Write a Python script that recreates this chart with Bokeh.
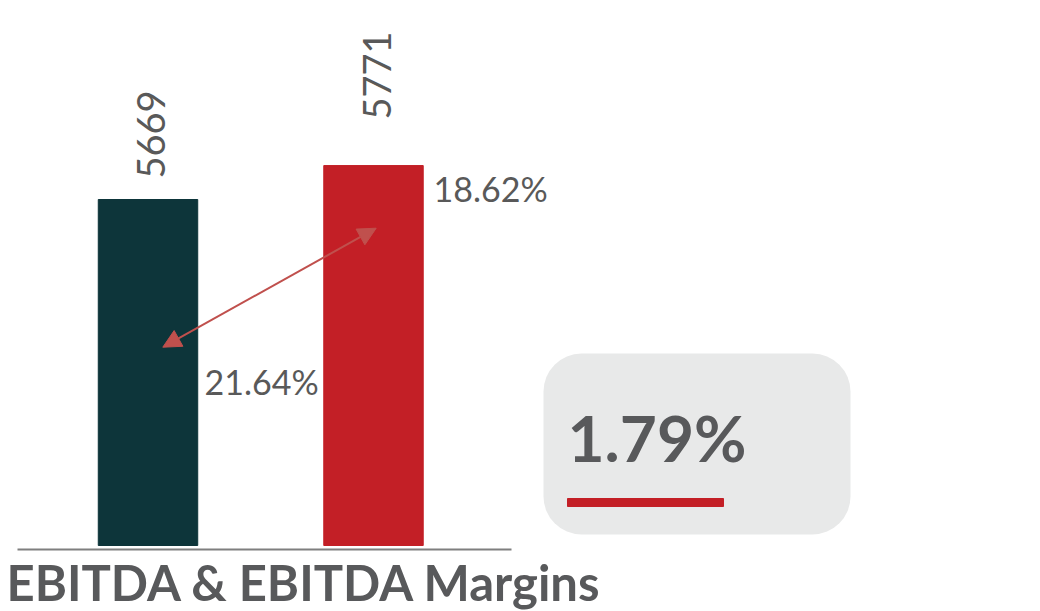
import math
from bokeh.plotting import figure
from bokeh.models import Range1d, BoxAnnotation, Arrow, NormalHead, ColumnDataSource
from bokeh.core.properties import value
from bokeh.embed import file_html
from bokeh.resources import INLINE

# ---- data ----
periods = ["Prev", "Curr"]
ebitda = [5669, 5771]
margins = ["21.64%", "18.62%"]
change_label = "1.79%"
title_text = "EBITDA & EBITDA Margins"

# ---- style ----
bar_colors = ["#0d353a", "#c31f26"]
text_gray = "#595959"
title_gray = "#58595b"
red = "#c31f26"
arrow_red = "#c0504d"
FONT = "Lato"

W, H = 1024, 611
axis_min = 4630          # value axis start (bars grow from here)
px_per_unit = 0.333
base_px = 545            # pixel row of axis_min
y_end = axis_min + base_px / px_per_unit
y_start = axis_min - (H - base_px) / px_per_unit
slot = 225.5
x0_px = 147.5
x_start = -x0_px / slot
x_end = (W - x0_px) / slot
bar_w = 0.441

p = figure(width=W, height=H, output_backend="svg", toolbar_location=None,
           x_range=Range1d(x_start, x_end), y_range=Range1d(y_start, y_end),
           min_border=0, outline_line_color=None)
p.axis.visible = False
p.grid.visible = False
p.extra_x_ranges = {"px": Range1d(0, W)}
p.extra_y_ranges = {"px": Range1d(H, 0)}

xs = list(range(len(ebitda)))
src = ColumnDataSource(dict(x=xs, top=ebitda, color=bar_colors,
                            lab=[str(v) for v in ebitda],
                            yoff=[-21, -46]))
p.vbar(x="x", top="top", bottom=axis_min, width=bar_w, color="color", source=src)

p.text(x="x", y="top", text="lab", source=src, angle=math.pi / 2,
       x_offset=3, y_offset="yoff",
       text_align="left", text_baseline="middle",
       text_font=value(FONT), text_font_size="38px", text_color=text_gray)

# baseline
p.segment(x0=[17], y0=[549], x1=[511], y1=[549], x_range_name="px", y_range_name="px",
          line_color="#7f7f7f", line_width=2)

# margin labels
p.text(x=[204, 433], y=[381, 188], text=margins, x_range_name="px", y_range_name="px",
       text_align="left", text_baseline="middle",
       text_font=value(FONT), text_font_size="34px", text_color=text_gray)

# arrow
p.add_layout(Arrow(x_start=162.3, y_start=346.7, x_end=375.7, y_end=227.7,
                   x_range_name="px", y_range_name="px",
                   line_color=arrow_red, line_width=2,
                   start=NormalHead(size=18, fill_color=arrow_red, line_color=arrow_red),
                   end=NormalHead(size=18, fill_color=arrow_red, line_color=arrow_red)))

# change box
p.add_layout(BoxAnnotation(left=543, right=850, top=353, bottom=534,
                           x_range_name="px", y_range_name="px",
                           fill_color="#e8e9e9", fill_alpha=1, line_color=None,
                           border_radius=38, level="underlay"))
p.text(x=[567], y=[437], text=[change_label], x_range_name="px", y_range_name="px",
       text_align="left", text_baseline="middle",
       text_font=value(FONT), text_font_style="bold", text_font_size="64px",
       text_color=title_gray)
p.quad(left=[567], right=[723], top=[498], bottom=[506], x_range_name="px", y_range_name="px",
       color=red)

# title
p.text(x=[6], y=[581], text=[title_text], x_range_name="px", y_range_name="px",
       text_align="left", text_baseline="middle",
       text_font=value(FONT), text_font_style="bold", text_font_size="49px",
       text_color=title_gray)

open("out.html", "w").write(file_html(p, INLINE))
